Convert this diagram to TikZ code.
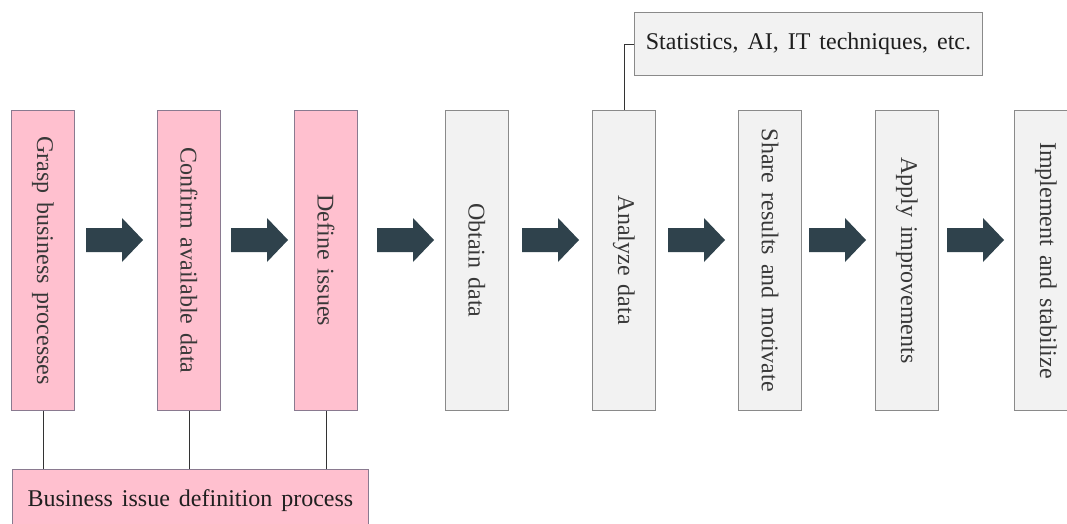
\documentclass[tikz,border=0pt]{standalone}
\usepackage{fontspec}
\setmainfont{Liberation Serif}[WordSpace=1.5]
\definecolor{pinkfill}{HTML}{FFC0CF}
\definecolor{pinkbd}{HTML}{8A7A90}
\definecolor{grayfill}{HTML}{F2F2F2}
\definecolor{graybd}{HTML}{8A8A8A}
\definecolor{arrowc}{HTML}{2F424C}
\definecolor{textc}{HTML}{383838}
\begin{document}
\begin{tikzpicture}[x=1pt,y=-1pt,
  stage/.style={draw=graybd, fill=grayfill, line width=0.9pt, minimum width=63pt,
    minimum height=300pt, inner sep=0pt, text=textc,
    font=\fontsize{24}{28}\selectfont, anchor=north west},
  pinkstage/.style={stage, draw=pinkbd, fill=pinkfill},
  widebox/.style={draw=graybd, fill=grayfill, line width=0.9pt, inner sep=0pt,
    text=black!88, font=\fontsize{24}{28}\selectfont, anchor=north west},
  conn/.style={draw=black!80, line width=0.8pt},
  blockarrow/.pic={\fill[arrowc] (0,-12) -- (36,-12) -- (36,-22) -- (57,0) -- (36,22) -- (36,12) -- (0,12) -- cycle;}
]
\useasboundingbox (0,0) rectangle (1067,524);
\clip (0,0) rectangle (1067,524);
\fill[white] (0,0) rectangle (1067,524);

\node[pinkstage] (b1) at (11,110) {\rotatebox{-90}{Grasp business processes}};
\node[pinkstage] (b2) at (157,110) {\rotatebox{-90}{Confirm available data}};
\node[pinkstage] (b3) at (294,110) {\rotatebox{-90}{Define issues}};
\node[stage] (b4) at (445,110) {\rotatebox{-90}{Obtain data}};
\node[stage] (b5) at (592,110) {\rotatebox{-90}{Analyze data}};
\node[stage] (b6) at (738,110) {\rotatebox{-90}{Share results and motivate}};
\node[stage] (b7) at (875,110) {\rotatebox{-90}{Apply improvements}};
\node[stage] (b8) at (1014,110) {\rotatebox{-90}{Implement and stabilize}};

\pic at (86,240) {blockarrow};
\pic at (231,240) {blockarrow};
\pic at (377,240) {blockarrow};
\pic at (522,240) {blockarrow};
\pic at (668,240) {blockarrow};
\pic at (809,240) {blockarrow};
\pic at (947,240) {blockarrow};

\node[widebox, draw=pinkbd, fill=pinkfill, minimum width=356pt, minimum height=62pt] (bot) at (12,469) {Business issue definition process};
\node[widebox, minimum width=348pt, minimum height=63pt] (top) at (634,12) {Statistics, AI, IT techniques, etc.};

\draw[conn] (b1.south) -- (b1.south |- bot.north);
\draw[conn] (b2.south) -- (b2.south |- bot.north);
\draw[conn] (b3.south) -- (b3.south |- bot.north);
\draw[conn] (b5.north) |- (top.west);
\end{tikzpicture}
\end{document}
